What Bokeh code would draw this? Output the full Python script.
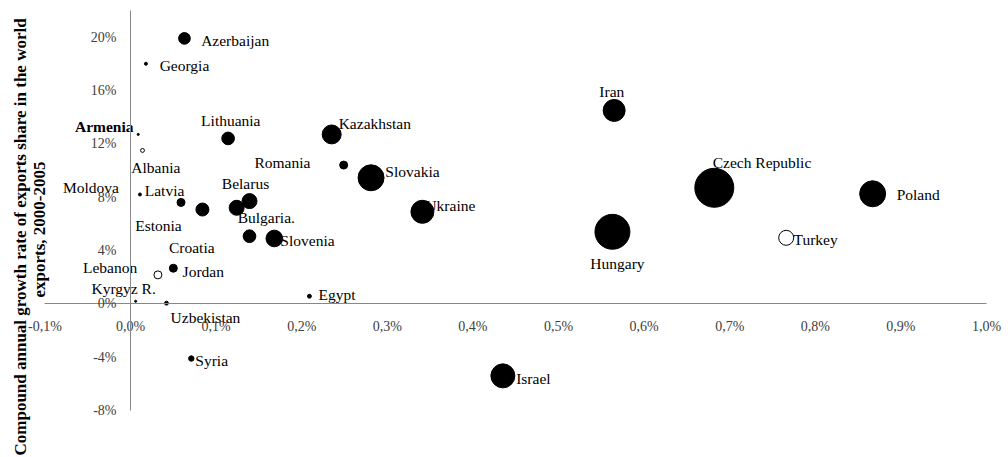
import math
from bokeh.plotting import figure
from bokeh.models import ColumnDataSource, Range1d, LinearAxis, FixedTicker, Label, CustomJSTickFormatter
from bokeh.core.properties import value
from bokeh.embed import file_html
from bokeh.resources import INLINE

# ---------------- data ----------------
countries = ["Azerbaijan", "Georgia", "Armenia", "Albania", "Lithuania", "Kazakhstan",
             "Romania", "Slovakia", "Ukraine", "Iran", "Czech Republic", "Poland",
             "Hungary", "Turkey", "Israel", "Syria", "Egypt", "Uzbekistan", "Kyrgyz R.",
             "Lebanon", "Jordan", "Slovenia", "Croatia", "Belarus", "Bulgaria.",
             "Estonia", "Latvia", "Moldova"]
# share in world exports (%)
export_share = [0.063, 0.018, 0.009, 0.014, 0.114, 0.235,
                0.249, 0.281, 0.341, 0.565, 0.682, 0.867,
                0.563, 0.766, 0.435, 0.071, 0.209, 0.042, 0.006,
                0.032, 0.050, 0.168, 0.139, 0.139, 0.124,
                0.084, 0.059, 0.011]
# compound annual growth rate of exports share, 2000-2005 (%)
growth = [19.9, 18.0, 12.7, 11.5, 12.4, 12.7,
          10.4, 9.45, 6.9, 14.5, 8.7, 8.25,
          5.4, 4.95, -5.4, -4.1, 0.57, 0.05, 0.19,
          2.17, 2.67, 4.9, 5.07, 7.7, 7.2,
          7.07, 7.6, 8.2]
# bubble size value (relative)
bubble_value = [9.0, 0.6, 0.3, 1.0, 10.6, 23.7,
                4.2, 44.4, 34.8, 31.8, 100.0, 44.4,
                80.5, 14.8, 37.9, 1.9, 1.0, 1.0, 0.3,
                4.2, 4.2, 18.3, 10.6, 14.8, 14.8,
                11.1, 4.2, 0.6]
hollow_countries = ["Albania", "Lebanon", "Turkey"]
bold_countries = ["Armenia"]

x_ticks = [-0.1, 0.0, 0.1, 0.2, 0.3, 0.4, 0.5, 0.6, 0.7, 0.8, 0.9, 1.0]
x_tick_labels = ["-0,1%", "0,0%", "0,1%", "0,2%", "0,3%", "0,4%", "0,5%", "0,6%",
                 "0,7%", "0,8%", "0,9%", "1,0%"]
y_ticks = [-8, -4, 0, 4, 8, 12, 16, 20]
y_tick_labels = ["-8%", "-4%", "0%", "4%", "8%", "12%", "16%", "20%"]
x_axis_bounds = (-0.1, 1.0)
y_axis_bounds = (-8, 22)

y_title_1 = "Compound annual growth rate of exports share in the world"
y_title_2 = "exports, 2000-2005"

# ---------------- label layout (screen px offsets, align) ----------------
label_layout = {
    "Azerbaijan": (16.7, 2.3, "left"),
    "Georgia": (13.7, 1.6, "left"),
    "Armenia": (-4.7, -8.3, "right"),
    "Albania": (13.3, 16.7, "center"),
    "Lithuania": (2.7, -17.7, "center"),
    "Kazakhstan": (7, -11.3, "left"),
    "Romania": (-33.3, -3, "right"),
    "Slovakia": (14.3, -6.6, "left"),
    "Ukraine": (3, -6, "left"),
    "Iran": (-2.3, -19, "center"),
    "Czech Republic": (47.7, -25.6, "center"),
    "Poland": (24, 1, "left"),
    "Hungary": (5, 31.6, "center"),
    "Turkey": (7.3, 1.7, "left"),
    "Israel": (13.3, 2.3, "left"),
    "Syria": (4, 2.3, "left"),
    "Egypt": (9, -1.7, "left"),
    "Uzbekistan": (39, 14, "center"),
    "Kyrgyz R.": (-12, -12.4, "center"),
    "Lebanon": (-20.7, -7.6, "right"),
    "Jordan": (9.3, 3, "left"),
    "Slovenia": (6, 2, "left"),
    "Croatia": (-57.7, 11.3, "center"),
    "Belarus": (-4, -17.7, "center"),
    "Bulgaria.": (1, 10, "left"),
    "Estonia": (-44, 16, "center"),
    "Latvia": (-36.3, -11.7, "left"),
    "Moldova": (-21, -7.3, "right"),
}

SERIF = "Liberation Serif"

# the frame fills the whole canvas; ranges chosen so the axes sit where the original's do
p = figure(width=1008, height=457,
           x_range=Range1d(-0.1519, 1.0257), y_range=Range1d(-11.52, 22.74),
           output_backend="svg", toolbar_location=None,
           x_axis_location=None, y_axis_location=None,
           min_border_left=0, min_border_right=0,
           min_border_top=0, min_border_bottom=0)
p.xgrid.visible = False
p.ygrid.visible = False
p.outline_line_color = None
p.background_fill_color = "white"
p.border_fill_color = "white"

def style_axis(ax):
    ax.axis_line_color = "#888888"
    ax.axis_line_width = 1
    ax.major_tick_in = 0
    ax.major_tick_out = 0
    ax.minor_tick_in = 0
    ax.minor_tick_out = 0
    ax.major_label_text_font = SERIF
    ax.major_label_text_font_size = "14px"
    ax.major_label_text_color = "#404040"
    ax.fixed_location = 0

fmt_code = """
for (let i = 0; i < ticks_v.length; i++) {
  if (Math.abs(ticks_v[i] - tick) < 1e-9) return labels[i];
}
return '';
"""
xaxis = LinearAxis(ticker=FixedTicker(ticks=x_ticks), bounds=x_axis_bounds,
                   formatter=CustomJSTickFormatter(args=dict(ticks_v=x_ticks, labels=x_tick_labels), code=fmt_code))
style_axis(xaxis)
xaxis.major_label_standoff = 15
p.add_layout(xaxis, "below")

yaxis = LinearAxis(ticker=FixedTicker(ticks=y_ticks), bounds=y_axis_bounds,
                   formatter=CustomJSTickFormatter(args=dict(ticks_v=y_ticks, labels=y_tick_labels), code=fmt_code))
style_axis(yaxis)
yaxis.major_label_standoff = 14
p.add_layout(yaxis, "left")

# y-axis title (two rotated lines)
for txt, sx, sy in [(y_title_1, 19.5, 2), (y_title_2, 38.5, 160)]:
    p.add_layout(Label(x=sx, y=sy, x_units="screen", y_units="screen", text=txt,
                       angle=math.pi / 2, text_align="left", text_baseline="middle",
                       text_font=SERIF, text_font_style="bold", text_font_size="17px",
                       text_color="black"))

# ---------------- labels ----------------
for align in ["left", "right", "center"]:
    for bold in [False, True]:
        idx = [i for i, c in enumerate(countries)
               if label_layout[c][2] == align and ((c in bold_countries) == bold)]
        if not idx:
            continue
        src = ColumnDataSource(dict(
            x=[export_share[i] for i in idx],
            y=[growth[i] for i in idx],
            name=[countries[i] for i in idx],
            dx=[label_layout[countries[i]][0] for i in idx],
            dy=[label_layout[countries[i]][1] for i in idx],
        ))
        p.text(x="x", y="y", text="name", x_offset="dx", y_offset="dy", source=src,
               text_align=align, text_baseline="middle",
               text_font=value(SERIF), text_font_size="15.5px",
               text_font_style="bold" if bold else "normal", text_color="black")

# ---------------- bubbles ----------------
sizes = [39 * math.sqrt(v / 100.0) for v in bubble_value]
fills = ["white" if c in hollow_countries else "black" for c in countries]
bsrc = ColumnDataSource(dict(x=export_share, y=growth, size=sizes, fill=fills, name=countries))
p.scatter(x="x", y="y", size="size", fill_color="fill", line_color="black", line_width=1, source=bsrc)

open("out.html", "w").write(file_html(p, INLINE))
